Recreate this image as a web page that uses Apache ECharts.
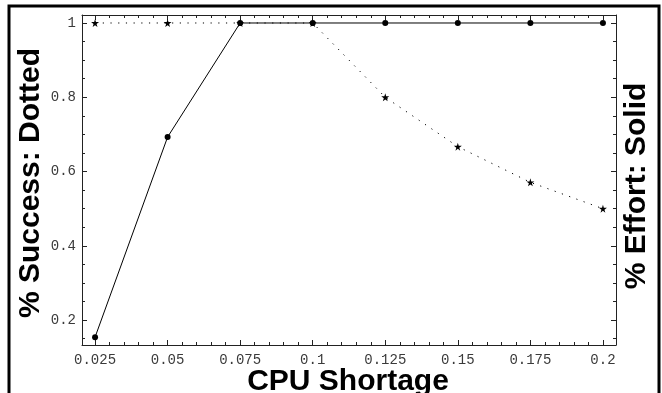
<!DOCTYPE html>
<html>
<head>
<meta charset="utf-8">
<script src="https://cdn.jsdelivr.net/npm/echarts@6/dist/echarts.min.js"></script>
<style>html,body{margin:0;padding:0;background:#fff}#c{width:662px;height:393px}</style>
</head>
<body>
<div id="c"></div>
<script>
// ---- data ----
const cpuShortage = [0.025, 0.05, 0.075, 0.1, 0.125, 0.15, 0.175, 0.2];
const effort  = [0.154, 0.693, 1, 1, 1, 1, 1, 1];        // solid
const success = [1, 1, 1, 1, 0.8, 0.667, 0.571, 0.5];    // dotted
const xTickValues = [0.025, 0.05, 0.075, 0.1, 0.125, 0.15, 0.175, 0.2];
const xTickLabels = ['0.025', '0.05', '0.075', '0.1', '0.125', '0.15', '0.175', '0.2'];
const yTickValues = [0.2, 0.4, 0.6, 0.8, 1];
const yTickLabels = ['0.2', '0.4', '0.6', '0.8', '1'];

const xMin = 0.0205, xMax = 0.2045, yMin = 0.133, yMax = 1.0215;

const xMinor = [];
for (let i = 0; i <= 44; i++) { const v = +(0.005 * i).toFixed(4); if (v >= xMin && v <= xMax) xMinor.push(v); }
const yMinor = [];
for (let i = 0; i <= 24; i++) { const v = +(0.05 * i).toFixed(3); if (v >= yMin && v <= yMax) yMinor.push(v); }

const lineCol = '#222';
const monoFont = '"Liberation Mono", "DejaVu Sans Mono", monospace';

function xAxisDef(pos, major, showLabel, showLine) {
  return {
    type: 'value', min: xMin, max: xMax, position: pos,
    axisLine: { show: showLine, onZero: false, lineStyle: { color: lineCol, width: 1 } },
    axisTick: { show: true, inside: true, length: major ? 5 : 3, customValues: major ? xTickValues : xMinor,
                lineStyle: { color: lineCol, width: 1 } },
    axisLabel: showLabel ? {
      show: true, customValues: xTickValues, margin: 8,
      fontFamily: monoFont, fontSize: 14, color: '#3a3a3a',
      formatter: v => { const i = xTickValues.findIndex(t => Math.abs(t - v) < 1e-9); return i >= 0 ? xTickLabels[i] : ''; }
    } : { show: false },
    splitLine: { show: false }
  };
}
function yAxisDef(pos, major, showLabel, showLine) {
  return {
    type: 'value', min: yMin, max: yMax, position: pos,
    axisLine: { show: showLine, onZero: false, lineStyle: { color: lineCol, width: 1 } },
    axisTick: { show: true, inside: true, length: major ? 5 : 3, customValues: major ? yTickValues : yMinor,
                lineStyle: { color: lineCol, width: 1 } },
    axisLabel: showLabel ? {
      show: true, customValues: yTickValues, margin: 6,
      fontFamily: monoFont, fontSize: 14, color: '#3a3a3a',
      formatter: v => { const i = yTickValues.findIndex(t => Math.abs(t - v) < 1e-9); return i >= 0 ? yTickLabels[i] : ''; }
    } : { show: false },
    splitLine: { show: false }
  };
}

const starPath = 'path://M50,0 L61,35 L98,35 L68,57 L79,91 L50,70 L21,91 L32,57 L2,35 L39,35 Z';

const chart = echarts.init(document.getElementById('c'), null, { renderer: 'canvas' });
chart.setOption({
  animation: false,
  backgroundColor: '#fff',
  grid: { left: 82, top: 15, right: 46, bottom: 48, containLabel: false },
  xAxis: [
    xAxisDef('bottom', true, true, true),
    xAxisDef('bottom', false, false, false),
    xAxisDef('top', true, false, true),
    xAxisDef('top', false, false, false)
  ],
  yAxis: [
    yAxisDef('left', true, true, true),
    yAxisDef('left', false, false, false),
    yAxisDef('right', true, false, true),
    yAxisDef('right', false, false, false)
  ],
  series: [
    {
      name: 'Effort', type: 'line', xAxisIndex: 0, yAxisIndex: 0,
      data: cpuShortage.map((x, i) => [x, effort[i]]),
      lineStyle: { color: '#000', width: 1 },
      symbol: 'circle', symbolSize: 6, itemStyle: { color: '#000' }, z: 3
    },
    {
      name: 'Success', type: 'line', xAxisIndex: 0, yAxisIndex: 0,
      data: cpuShortage.map((x, i) => [x, success[i]]),
      lineStyle: { color: '#000', width: 1, type: [1.2, 6.5] },
      symbol: starPath, symbolSize: 8, itemStyle: { color: '#000' }, z: 2
    }
  ],
  graphic: [
    { type: 'rect', silent: true, z: 100,
      shape: { x: 9, y: 6, width: 650, height: 420 },
      style: { fill: 'none', stroke: '#000', lineWidth: 3 } },
    { type: 'text', z: 100, x: 31, y: 183, rotation: Math.PI / 2,
      style: { text: '% Success: Dotted', font: 'bold 30px "Liberation Sans", Arial, sans-serif',
               fill: '#000', align: 'center', verticalAlign: 'middle' } },
    { type: 'text', z: 100, x: 637, y: 186, rotation: Math.PI / 2,
      style: { text: '% Effort: Solid', font: 'bold 30px "Liberation Sans", Arial, sans-serif',
               fill: '#000', align: 'center', verticalAlign: 'middle' } },
    { type: 'text', z: 100, x: 348, y: 382,
      style: { text: 'CPU Shortage', font: 'bold 30px "Liberation Sans", Arial, sans-serif',
               fill: '#000', align: 'center', verticalAlign: 'middle' } }
  ]
});
</script>
</body>
</html>
